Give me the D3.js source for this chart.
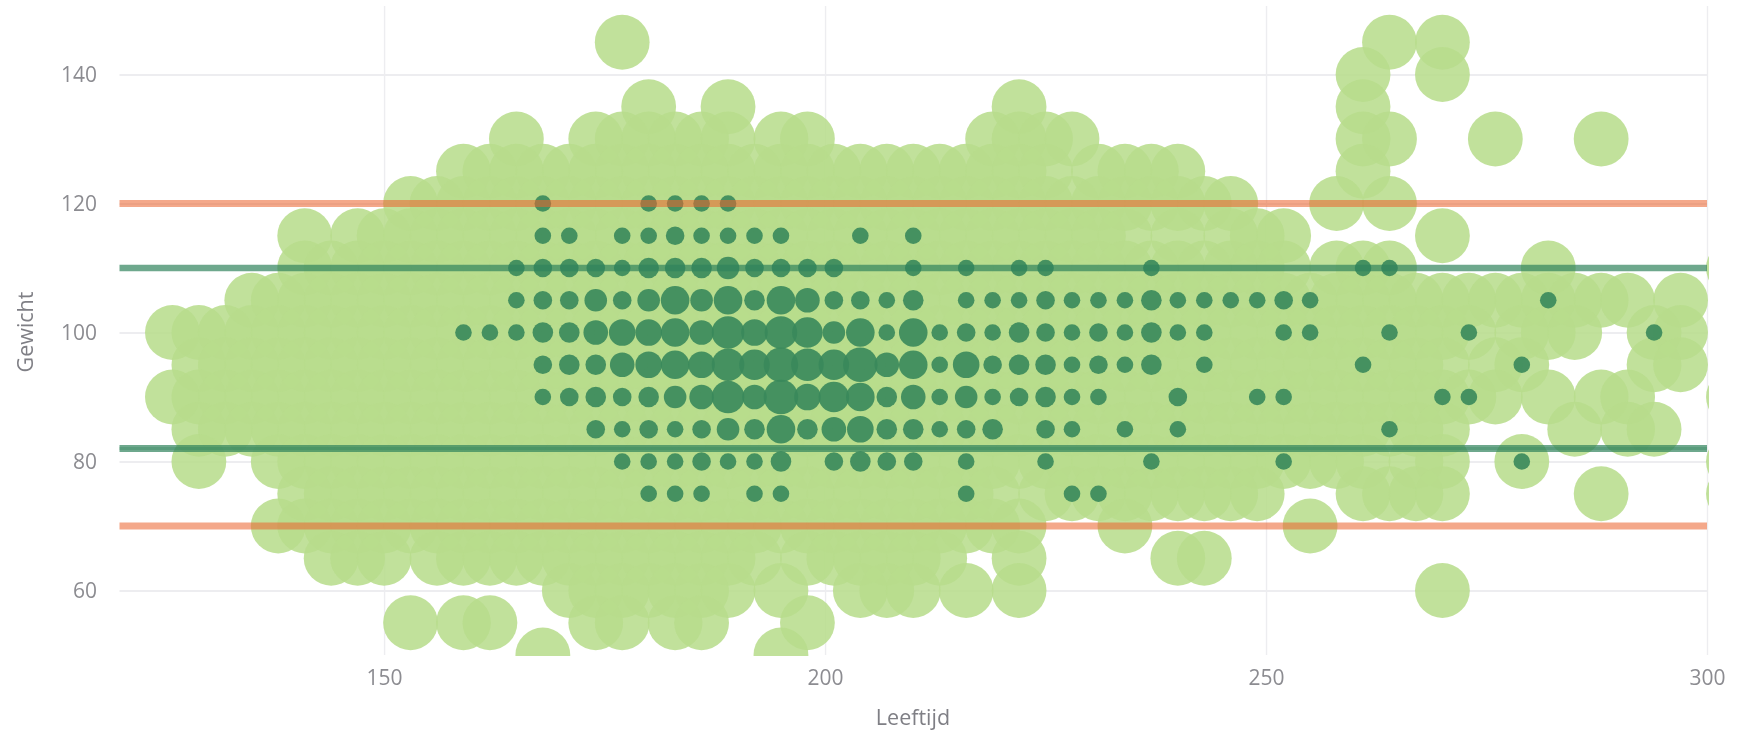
<!DOCTYPE html>
<html>
<head>
<meta charset="utf-8">
<script src="https://cdn.jsdelivr.net/npm/d3@7/dist/d3.min.js"></script>
<style>
html,body{margin:0;padding:0;background:#fff;overflow:hidden}
svg{display:block;filter:blur(0.5px)}
text{font-family:"Open Sans",sans-serif}
</style>
</head>
<body>
<div id="chart"></div>
<script>
const xTickValues = [150, 200, 250, 300];
const yTickValues = [60, 80, 100, 120, 140];
const xTitle = "Leeftijd";
const yTitle = "Gewicht";
const orangeLimits = [120, 70];
const greenLimits = [110, 82];

const lightWeights = [145,140,135,130,125,120,115,110,105,100,95,90,85,80,75,70,65,60,55,50];
const lightAges = [
 [177,264,270],
 [261,270],
 [180,189,222,261],
 [165,174,177,180,183,186,189,195,198,219,222,225,228,261,264,276,288],
 [159,162,165,168,171,174,177,180,183,186,189,192,195,198,201,204,207,210,213,216,219,222,225,231,234,237,240,261],
 [153,156,159,162,165,168,171,174,177,180,183,186,189,192,195,198,201,204,207,210,213,216,219,222,225,228,231,234,237,240,243,246,258,264],
 [141,147,150,153,156,159,162,165,168,171,174,177,180,183,186,189,192,195,198,201,204,207,210,213,216,219,222,225,228,231,234,240,246,249,252,270],
 [141,144,147,150,153,156,159,162,165,168,171,174,177,180,183,186,189,192,195,198,201,204,207,210,213,216,219,222,225,228,231,234,237,240,243,246,249,252,258,261,264,282,303],
 [135,138,141,144,147,150,153,156,159,162,165,168,171,174,177,180,183,186,189,192,195,198,201,204,207,210,213,216,219,222,225,228,231,234,237,240,243,246,249,252,255,258,261,264,267,270,273,276,279,282,285,288,291,297],
 [126,129,132,135,138,141,144,147,150,153,156,159,162,165,168,171,174,177,180,183,186,189,192,195,198,201,204,207,210,213,216,219,222,225,228,231,234,237,240,243,246,249,252,255,258,261,264,267,270,273,279,282,285,294,297],
 [129,132,135,138,141,144,147,150,153,156,159,162,165,168,171,174,177,180,183,186,189,192,195,198,201,204,207,210,213,216,219,222,225,228,231,234,237,240,243,246,249,252,255,258,261,264,267,270,276,279,294,297],
 [126,129,132,135,138,141,144,147,150,153,156,159,162,165,168,171,174,177,180,183,186,189,192,195,198,201,204,207,210,213,216,219,222,225,228,231,234,237,240,243,246,249,252,255,258,261,264,267,270,273,276,282,288,291,303],
 [129,132,135,138,141,144,147,150,153,156,159,162,165,168,171,174,177,180,183,186,189,192,195,198,201,204,207,210,213,216,219,222,225,228,231,234,237,240,243,246,249,252,255,258,261,264,267,270,285,291,294],
 [129,138,141,144,147,150,153,156,159,162,165,168,171,174,177,180,183,186,189,192,195,198,201,204,207,210,213,216,219,222,225,228,231,234,237,240,243,246,249,252,255,258,261,267,270,279,303],
 [141,144,147,150,153,156,159,162,165,168,171,174,177,180,183,186,189,192,195,198,201,204,207,210,213,216,219,225,228,231,234,237,240,243,246,249,261,264,267,270,288,303],
 [138,141,144,147,150,153,156,159,162,165,168,171,174,177,180,183,186,189,192,195,198,201,204,207,210,213,216,219,222,234,255],
 [144,147,150,156,159,162,165,168,171,174,177,180,183,186,189,192,198,201,204,207,210,213,222,240,243],
 [171,174,177,180,183,186,189,195,204,207,210,216,222,270],
 [153,159,162,174,177,183,186,198],
 [168,195]
];

const darkWeights = [120,115,110,105,100,95,90,85,80,75];
const darkAges = [
 [168,180,183,186,189],
 [168,171,177,180,183,186,189,192,195,204,210],
 [165,168,171,174,177,180,183,186,189,192,195,198,201,210,216,222,225,237,261,264],
 [165,168,171,174,177,180,183,186,189,192,195,198,201,204,207,210,216,219,222,225,228,231,234,237,240,243,246,249,252,255,282],
 [159,162,165,168,171,174,177,180,183,186,189,192,195,198,201,204,207,210,213,216,219,222,225,228,231,234,237,240,243,252,255,264,273,294],
 [168,171,174,177,180,183,186,189,192,195,198,201,204,207,210,213,216,219,222,225,228,231,234,237,243,261,279],
 [168,171,174,177,180,183,186,189,192,195,198,201,204,207,210,213,216,219,222,225,228,231,240,249,252,270,273],
 [174,177,180,183,186,189,192,195,198,201,204,207,210,213,216,219,225,228,234,240,264],
 [177,180,183,186,189,192,195,201,204,207,210,216,225,237,252,279],
 [180,183,186,192,195,216,228,231]
];
const darkCounts = [
 [1,1,1,1,1],
 [1,1,1,1,2,1,1,1,1,1,1],
 [1,2,2,2,1,3,3,3,4,2,2,2,2,1,1,1,1,1,1,1],
 [1,2,2,4,2,4,7,4,7,3,7,5,2,2,1,3,1,1,1,2,1,1,1,3,1,1,1,1,2,1,1],
 [1,1,1,3,3,5,6,6,7,5,9,6,9,8,4,7,1,7,1,2,1,3,2,1,2,1,3,1,1,1,1,1,1,1],
 [2,3,3,5,6,7,6,9,8,10,9,8,10,5,7,1,6,2,3,3,1,2,1,3,1,1,1],
 [1,2,3,2,3,4,5,9,5,10,6,8,7,3,5,1,4,1,2,3,1,1,2,1,1,1,1],
 [2,1,2,1,2,4,3,7,3,5,6,3,3,1,2,3,2,1,1,1,1],
 [1,1,1,2,1,1,3,2,3,2,2,1,1,1,1,1],
 [1,1,1,1,1,1,1,1]
];

const W = 1739, H = 732;
const plotLeft = 119.5, plotRight = 1707, plotTop = 10, plotBottom = 655, gridTop = 6;

const x = d3.scaleLinear().domain([120, 300]).range([plotLeft, plotRight]);
const y = d3.scaleLinear().domain([50, 150]).range([plotBottom, plotTop]);
const r = d3.scaleLinear().domain([1, 10]).range([8.3, 17.3]);
const lightRadius = 27.4;

const svg = d3.select("#chart").append("svg").attr("width", W).attr("height", H);

svg.append("defs").append("clipPath").attr("id", "plot")
  .append("rect").attr("x", plotLeft).attr("y", gridTop).attr("width", plotRight - plotLeft + 2).attr("height", plotBottom - gridTop + 1);

const gridColor = "#edeDf0";
const tickColor = "#8c8c91";

const gx = svg.append("g").attr("transform", `translate(0,${plotBottom})`)
  .call(d3.axisBottom(x).tickValues(xTickValues).tickSize(-(plotBottom - gridTop)).tickPadding(15.5).tickFormat(d3.format("d")));
const gy = svg.append("g").attr("transform", `translate(${plotLeft},0)`)
  .call(d3.axisLeft(y).tickValues(yTickValues).tickSize(-(plotRight - plotLeft)).tickPadding(22.5).tickFormat(d3.format("d")));
gx.select(".domain").remove();
gy.select(".domain").remove();
gx.selectAll(".tick line").attr("stroke", gridColor).attr("stroke-width", 1.4);
gy.selectAll(".tick line").attr("stroke", gridColor).attr("stroke-width", 2);
[gx, gy].forEach(g => g.selectAll(".tick text").attr("fill", tickColor).style("font-size", "21px"));

const plot = svg.append("g").attr("clip-path", "url(#plot)");

const lightPoints = lightWeights.flatMap((w, i) => lightAges[i].map(a => ({a, w})));
plot.append("g").selectAll("circle").data(lightPoints).join("circle")
  .attr("cx", d => x(d.a)).attr("cy", d => y(d.w)).attr("r", lightRadius)
  .attr("fill", "#b8dc8c").attr("fill-opacity", 0.87);

const darkPoints = darkWeights.flatMap((w, i) => darkAges[i].map((a, j) => ({a, w, c: darkCounts[i][j]})));
plot.append("g").selectAll("circle").data(darkPoints).join("circle")
  .attr("cx", d => x(d.a)).attr("cy", d => y(d.w)).attr("r", d => r(d.c))
  .attr("fill", "#38885b").attr("fill-opacity", 0.9);

const lineLayer = svg.append("g");
lineLayer.selectAll("line.orange").data(orangeLimits).join("line").attr("class", "orange")
  .attr("x1", plotLeft).attr("x2", plotRight).attr("y1", d => y(d)).attr("y2", d => y(d))
  .attr("stroke", "#ec632e").attr("stroke-opacity", 0.56).attr("stroke-width", 7);
lineLayer.selectAll("line.green").data(greenLimits).join("line").attr("class", "green")
  .attr("x1", plotLeft).attr("x2", plotRight).attr("y1", d => y(d)).attr("y2", d => y(d))
  .attr("stroke", "#31835d").attr("stroke-opacity", 0.7).attr("stroke-width", d => d === 82 ? 7 : 6.5);
lineLayer.selectAll("line.core").data(greenLimits.filter(d => d === 82)).join("line").attr("class", "core")
  .attr("x1", plotLeft).attr("x2", plotRight).attr("y1", d => y(d)).attr("y2", d => y(d))
  .attr("stroke", "#31835d").attr("stroke-opacity", 0.35).attr("stroke-width", 3);

svg.append("text").attr("x", 913).attr("y", 725).attr("text-anchor", "middle")
  .attr("fill", "#7f7f85").style("font-size", "21.5px").text(xTitle);
svg.append("text").attr("transform", "translate(33,332) rotate(-90)").attr("text-anchor", "middle")
  .attr("fill", "#7f7f85").style("font-size", "21.5px").text(yTitle);
</script>
</body>
</html>
